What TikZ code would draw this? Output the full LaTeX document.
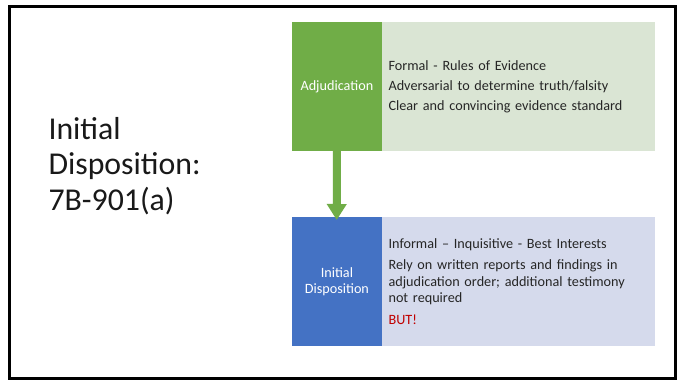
\documentclass[tikz,border=0pt]{standalone}
\usepackage{fontspec}
\setmainfont{Carlito}
\usetikzlibrary{arrows.meta}

\definecolor{adjgreen}{HTML}{70AD47}
\definecolor{adjlight}{HTML}{DAE5D4}
\definecolor{dispblue}{HTML}{4472C4}
\definecolor{displight}{HTML}{D5DAEC}
\definecolor{butred}{HTML}{C00000}

\tikzset{
  stagebox/.style={anchor=north west, minimum width=90pt, minimum height=#1,
    inner sep=0pt, text=white, align=center,
    font=\fontsize{14.2}{15.6}\selectfont},
  detailbox/.style={anchor=north west, minimum width=273.3pt, minimum height=#1,
    inner xsep=6.6pt, inner ysep=0pt, text width=260pt, align=left,
    text=black!85, font=\fontsize{14.2}{16.3}\selectfont},
  flowarrow/.style={draw=adjgreen, line width=8pt,
    -{Triangle[width=19pt,length=16pt]}}
}

\begin{document}
\begin{tikzpicture}[x=1pt,y=-1pt]
  \useasboundingbox (0,0) rectangle (683,380);
  \fill[white] (0,0) rectangle (683,380);
  \draw[line width=3pt] (9.5,6.5) rectangle (675.5,378.5);

  % title (base anchor sits on the last line)
  \node[anchor=base west, align=left, inner sep=0pt,
        font=\fontsize{31.8}{35.5}\selectfont, text=black!90] (title)
        at (48.3,210.3) {Initial\\Disposition:\\7B-901(a)};

  % upper stage
  \node[stagebox=129pt, fill=adjgreen] (adj) at (291.7,21.7) {Adjudication};
  \node[detailbox=129pt, fill=adjlight] (adjtext) at (381.7,21.7)
    {Formal - Rules of Evidence\\[3.7pt]
     Adversarial to determine truth/falsity\\[3.7pt]
     Clear and convincing evidence standard};

  % lower stage
  \node[stagebox=129.3pt, fill=dispblue] (disp) at (291.7,216.7) {Initial\\Disposition};
  \node[detailbox=129.3pt, fill=displight] (disptext) at (381.7,216.7)
    {Informal – Inquisitive - Best Interests\\[5.3pt]
     Rely on written reports and findings in\\
     adjudication order; additional testimony\\
     not required\\[6pt]
     \textcolor{butred}{BUT!}};

  \coordinate (tip) at (336.7,220);
  \draw[flowarrow] (adj.south) -- (tip);
\end{tikzpicture}
\end{document}
